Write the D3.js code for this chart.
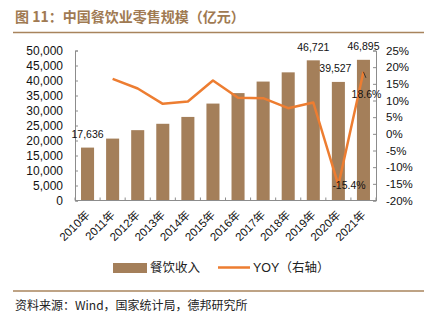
<!DOCTYPE html>
<html><head><meta charset="utf-8">
<script src="https://cdn.jsdelivr.net/npm/d3@7"></script>
<style>
body{margin:0;background:#fff;}
svg{display:block;}
</style></head>
<body><svg id="c" width="434" height="323"></svg>
<script>
const years = ["2010年","2011年","2012年","2013年","2014年","2015年","2016年","2017年","2018年","2019年","2020年","2021年"];
const revenue = [17636,20635,23448,25569,27860,32310,35799,39644,42716,46721,39527,46895];
const yoy = [null,16.5,13.6,9.0,9.7,16.0,10.8,10.7,7.7,9.4,-15.4,18.6];
const leftTicks = [0,5000,10000,15000,20000,25000,30000,35000,40000,45000,50000];
const rightTicks = [-20,-15,-10,-5,0,5,10,15,20,25];
const revLabels = {"2010年":"17,636","2019年":"46,721","2020年":"39,527","2021年":"46,895"};
const yoyLabels = {"2020年":"-15.4%","2021年":"18.6%"};
const title = "图 11：中国餐饮业零售规模（亿元）";
const source = "资料来源：Wind，国家统计局，德邦研究所";
const legendNames = ["餐饮收入","YOY（右轴）"];

const barColor = "#a47f5a", lineColor = "#ed7d31", brown = "#a8845d", axisColor = "#8c8c8c";
const svg = d3.select("#c");
const L = 75, R = 376, T = 50.5, B = 200.5;
const x = d3.scaleBand().domain(years).range([L, R]).paddingInner(0.48).paddingOuter(0.24);
const yL = d3.scaleLinear().domain([0,50000]).range([B,T]);
const yR = d3.scaleLinear().domain([-20,25]).range([B,T]);
const cx = d => x(d) + x.bandwidth()/2;
const num = d3.format(",");

// title
svg.append("text").attr("x",15).attr("y",22).attr("fill","#a07a52")
  .attr("font-family","'Noto Sans CJK SC'").attr("font-weight","bold").attr("font-size",14).text(title);
svg.append("line").attr("x1",13).attr("x2",424).attr("y1",32.5).attr("y2",32.5).attr("stroke",brown).attr("stroke-width",1.5);
svg.append("line").attr("x1",13).attr("x2",424).attr("y1",291).attr("y2",291).attr("stroke",brown).attr("stroke-width",1.5);
svg.append("text").attr("x",15).attr("y",309.5).attr("fill","#222")
  .attr("font-family","'Noto Sans CJK SC'").attr("font-size",12).text(source);

// bars
svg.append("g").selectAll("rect").data(years).join("rect")
  .attr("x", d=>x(d)).attr("width", x.bandwidth())
  .attr("y", (d,i)=>yL(revenue[i])).attr("height",(d,i)=>B - yL(revenue[i]))
  .attr("fill", barColor);

// left axis
const ga = svg.append("g").attr("transform",`translate(${L},0)`)
  .call(d3.axisLeft(yL).tickValues(leftTicks).tickFormat(num).tickSize(-3).tickPadding(12));
// right axis
const gr = svg.append("g").attr("transform",`translate(${R},0)`)
  .call(d3.axisRight(yR).tickValues(rightTicks).tickFormat(d=>d+"%").tickSize(-3).tickPadding(10));
[ga,gr].forEach(g=>{
  g.selectAll("path,line").attr("stroke",axisColor);
  g.selectAll("text").attr("font-family","'Liberation Sans', Arial").attr("font-size",12).attr("fill","#111");
});
gr.selectAll("text").attr("font-size",11.5);

// x axis baseline and ticks
svg.append("line").attr("x1",L).attr("x2",R).attr("y1",B).attr("y2",B).attr("stroke",axisColor);
svg.append("g").selectAll("line").data(d3.range(years.length+1)).join("line")
  .attr("x1",i=>L+i*(R-L)/years.length).attr("x2",i=>L+i*(R-L)/years.length)
  .attr("y1",B).attr("y2",B-3).attr("stroke",axisColor);
svg.append("g").selectAll("text").data(years).join("text")
  .attr("transform", d=>`translate(${cx(d)+3},${B+15}) rotate(-45)`)
  .attr("text-anchor","end").attr("font-family","'Liberation Sans','Noto Sans CJK SC'")
  .attr("font-size",11.5).attr("fill","#111").text(d=>d);

// line
const lineData = years.map((d,i)=>({d,v:yoy[i]})).filter(p=>p.v!==null);
svg.append("path").datum(lineData)
  .attr("d", d3.line().x(p=>cx(p.d)).y(p=>yR(p.v)))
  .attr("fill","none").attr("stroke",lineColor).attr("stroke-width",2.5).attr("stroke-linejoin","round");

// bar labels
svg.append("g").selectAll("text").data(years.filter(d=>revLabels[d])).join("text")
  .attr("x", d=> d==="2020年" ? cx(d)-3 : cx(d))
  .attr("y", d=> yL(revenue[years.indexOf(d)]) - 9.5)
  .attr("text-anchor","middle").attr("font-family","'Liberation Sans', Arial")
  .attr("font-size",10.5).attr("fill","#111").text(d=>revLabels[d]);

// yoy labels
const i20 = years.indexOf("2020年"), i21 = years.indexOf("2021年");
svg.append("text").attr("x",cx("2020年")-6).attr("y",yR(yoy[i20])+4)
  .attr("font-family","'Liberation Sans', Arial").attr("font-size",10.5).attr("fill","#111").text(yoyLabels["2020年"]);
svg.append("text").attr("x",cx("2021年")+3).attr("y",yR(yoy[i21])+26.5).attr("text-anchor","middle")
  .attr("font-family","'Liberation Sans', Arial").attr("font-size",10.5).attr("fill","#111").text(yoyLabels["2021年"]);
svg.append("line").attr("x1",cx("2021年")).attr("y1",yR(yoy[i21])).attr("x2",cx("2021年")+2.5).attr("y2",yR(yoy[i21])+6)
  .attr("stroke","#222").attr("stroke-width",0.8);

// legend
svg.append("rect").attr("x",113).attr("y",263).attr("width",34).attr("height",10).attr("fill",barColor);
svg.append("text").attr("x",150).attr("y",272).attr("font-family","'Noto Sans CJK SC'").attr("font-size",12.5).attr("fill","#222").text(legendNames[0]);
svg.append("line").attr("x1",218).attr("x2",250).attr("y1",267.5).attr("y2",267.5).attr("stroke",lineColor).attr("stroke-width",2.5);
svg.append("text").attr("x",253).attr("y",272).attr("font-family","'Liberation Sans','Noto Sans CJK SC'").attr("font-size",12.5).attr("fill","#222").text(legendNames[1]);
</script></body></html>
